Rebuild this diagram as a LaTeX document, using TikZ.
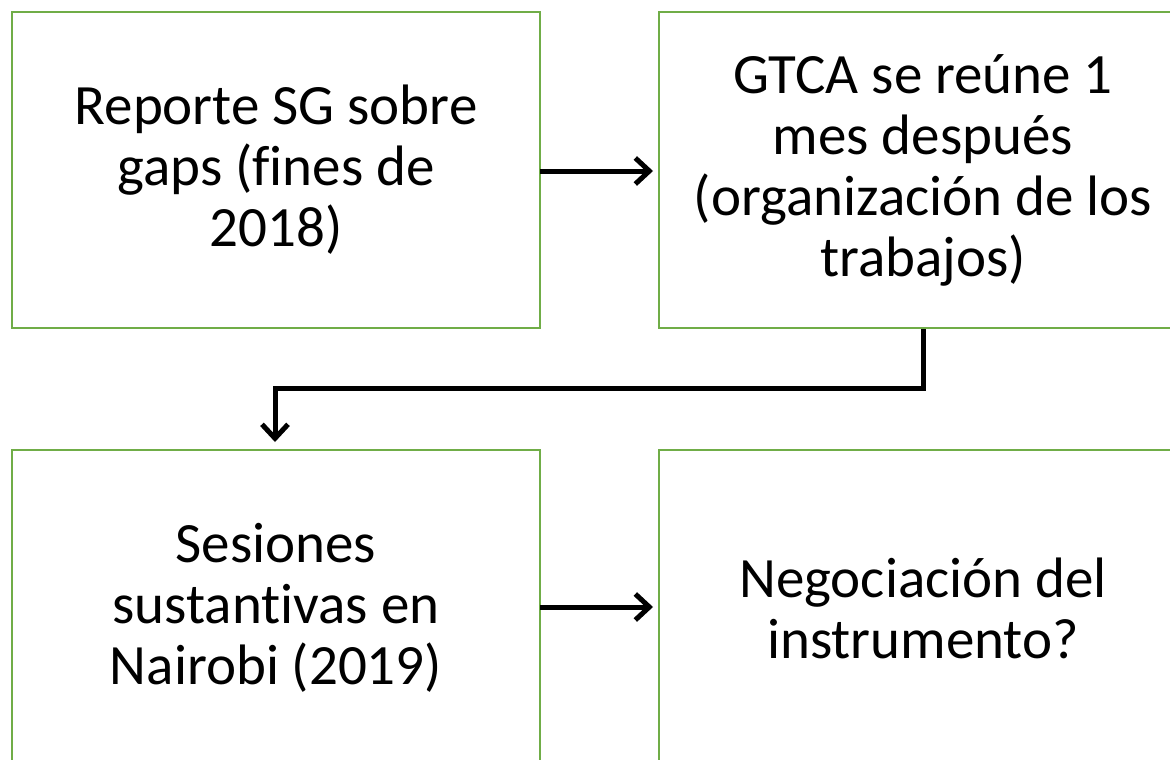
\documentclass[tikz,border=0pt]{standalone}
\usepackage{fontspec}
\setmainfont[Ligatures=NoCommon]{Carlito}
\usetikzlibrary{arrows.meta}
\definecolor{boxgreen}{RGB}{112,173,71}
\tikzset{
  flowbox/.style={draw=boxgreen, line width=2pt, minimum width=528pt, minimum height=316pt, inner sep=0pt, align=center, font=\fontsize{57}{61}\selectfont},
  flowarrow/.style={line width=5pt, -{Straight Barb[length=14pt,width=26pt,line width=5pt]}}
}
\begin{document}
\begin{tikzpicture}[x=1pt,y=-1pt]
\useasboundingbox (0,0) rectangle (1170,760);
\node[flowbox] (a) at (276,170) {Reporte SG sobre\\gaps (fines de\\2018)};
\node[flowbox] (b) at (923,170) {GTCA se reúne 1\\mes después\\(organización de los\\trabajos)};
\node[flowbox] (c) at (276,608) {Sesiones\\sustantivas en\\Nairobi (2019)};
\node[flowbox] (d) at (923,608) {Negociación del\\instrumento?};
\coordinate (ae) at (540,171);
\coordinate (bw) at (653,171);
\draw[flowarrow] (ae) -- (bw);
\coordinate (ce) at (540,607);
\coordinate (dw) at (653,607);
\draw[flowarrow] (ce) -- (dw);
\coordinate (cn) at (275,442);
\draw[flowarrow] (b.south) |- (275,388) -- (cn);
\end{tikzpicture}
\end{document}
